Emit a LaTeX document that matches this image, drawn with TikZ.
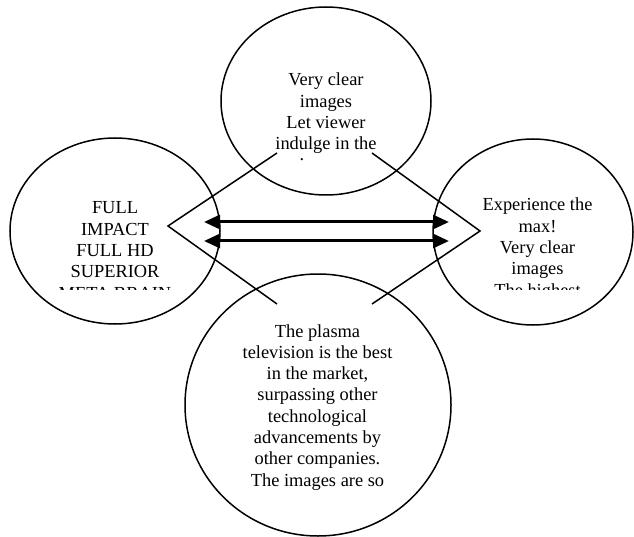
\documentclass[tikz,border=0pt]{standalone}
\usepackage{fontspec}
\setmainfont{Liberation Serif}
\usetikzlibrary{shapes.geometric,arrows.meta}
\tikzset{
  bubble/.style={draw, ellipse, line width=1.5pt, inner sep=0pt},
  blurb/.style={anchor=base, inner sep=0pt},
  spoke/.style={line width=1.5pt, line join=miter},
  dblarrow/.style={line width=3pt,
    {Triangle[length=16pt,width=14pt]}-{Triangle[length=16pt,width=14pt]}}
}
\newcommand{\blurbtext}[2]{\parbox[t]{#1}{\centering\fontsize{18.4}{21.3}\selectfont #2}}
\begin{document}
\begin{tikzpicture}[x=1pt,y=-1pt]
\useasboundingbox (0,0) rectangle (634,537);

% the four bubbles
\node[bubble, minimum width=210pt, minimum height=188pt] (top) at (326,101) {};
\node[bubble, minimum width=210pt, minimum height=186pt] (left) at (115,231) {};
\node[bubble, minimum width=200pt, minimum height=186pt] (right) at (533,232) {};
\node[bubble, minimum width=266pt, minimum height=262pt] (bottom) at (318,405) {};

% texts, cut off at the bottom of their frames
\begin{scope}
  \clip (226,60) rectangle (426,161);
  \node[blurb] (toptext) at (326,86) {\blurbtext{200pt}{Very clear\\images\\Let viewer\\indulge in the}};
\end{scope}
\node[blurb] (topdot) at (302,161) {\fontsize{18.4}{21.3}\selectfont .};

\begin{scope}
  \clip (20,190) rectangle (210,289);
  \node[blurb] (lefttext) at (115,214) {\blurbtext{180pt}{FULL\\IMPACT\\FULL HD\\SUPERIOR\\META BRAIN}};
\end{scope}

\begin{scope}
  \clip (440,190) rectangle (630,289);
  \node[blurb] (righttext) at (537.5,211) {\blurbtext{180pt}{Experience the\\max!\\Very clear\\images\\The highest}};
\end{scope}

\node[blurb] (bottomtext) at (317.5,337) {\blurbtext{240pt}{The plasma\\television is the best\\in the market,\\surpassing other\\technological\\advancements by\\other companies.\\The images are so}};

% chevrons joining the top and bottom bubbles
\coordinate (lt) at (277,153);
\coordinate (lv) at (168,226);
\coordinate (lb) at (277,304);
\coordinate (rt) at (372,153);
\coordinate (rv) at (480,231);
\coordinate (rb) at (372,304);
\draw[spoke] (lt) -- (lv) -- (lb);
\draw[spoke] (rt) -- (rv) -- (rb);

% double-headed arrows between the side bubbles
\coordinate (a1l) at (204,222);
\coordinate (a1r) at (449,222);
\coordinate (a2l) at (204,241);
\coordinate (a2r) at (449,241);
\draw[dblarrow] (a1l) -- (a1r);
\draw[dblarrow] (a2l) -- (a2r);
\end{tikzpicture}
\end{document}
